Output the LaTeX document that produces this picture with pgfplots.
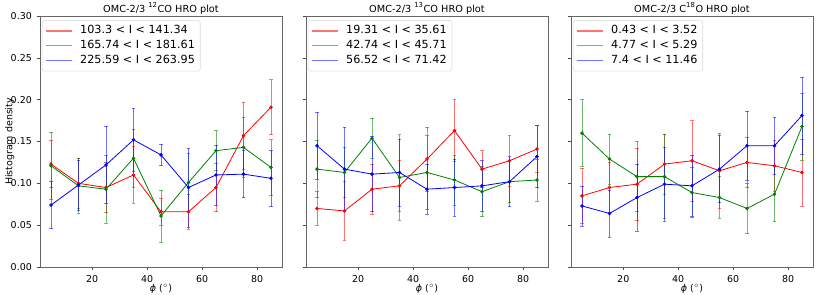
\documentclass[border=0pt]{standalone}
\usepackage{pgfplots}
\pgfplotsset{compat=1.18}
\usepackage{fontspec}
\setmainfont{DejaVu Sans}
\newcommand{\fs}{\fontsize{7.1}{8.5}\selectfont}
\newcommand{\fl}{\fontsize{7.3}{8.8}\selectfont}
\newcommand{\fg}{\fontsize{8.4}{9.5}\selectfont}
\definecolor{mred}{rgb}{1,0,0}
\definecolor{mgreen}{rgb}{0,0.5,0}
\definecolor{mblue}{rgb}{0,0,1}
\pgfplotsset{
  every axis title shift=0pt,
  every axis title/.style={at={(axis description cs:0.5,1.03)}, anchor=center, font=\fl},
  hro/.style={
    scale only axis, width=181.5pt, height=188.25pt,
    xmin=1, xmax=89, ymin=0, ymax=0.3,
    xtick={20,40,60,80}, ytick={0,0.05,0.10,0.15,0.20,0.25,0.30},
    tick align=outside, xtick pos=bottom, ytick pos=left,
    major tick length=2.6pt,
    axis line style={gray!80!black, line width=0.6pt},
    every tick/.style={gray!60!black, line width=0.5pt},
    ticklabel style={font=\fs},
    /pgf/number format/assume math mode=true,
    yticklabel style={/pgf/number format/.cd, fixed, fixed zerofill, precision=2},
    label style={font=\fs},
    xlabel={\textit{ϕ} ($^\circ$)},
    xlabel style={at={(axis description cs:0.5,-0.086)}, anchor=center},
    ylabel style={at={(axis description cs:-0.125,0.5)}, anchor=center},
    legend style={at={(0.008,0.984)}, anchor=north west, draw=gray!30, rounded corners=2pt,
      row sep=-0.5pt, inner sep=2pt, nodes={font=\fg}, /tikz/every odd column/.append style={column sep=3.5pt}},
    legend cell align=left,
    legend image code/.code={\draw[#1] (0cm,0cm) -- (0.7cm,0cm);},
  },
  ser/.style={#1, line width=0.6pt, mark=*, mark size=1pt, forget plot,
    error bars/.cd, y dir=both, y explicit,
    error bar style={#1, opacity=0.55, line width=0.6pt},
    error mark options={rotate=90, #1, opacity=0.55, mark size=1.3pt, line width=0.5pt}},
  leg/.style={#1, opacity=0.55, line width=1.1pt},
}
\begin{document}
\begin{tikzpicture}
\useasboundingbox (0,0) rectangle (616.5pt,220.5pt);
% Panel 1
\begin{axis}[hro, at={(30pt,20.25pt)}, anchor=south west,
  title={OMC-2/3 \textsuperscript{12}CO HRO plot}, ylabel={Histogram density}]
\addplot[ser=mred] coordinates {
(5,0.123) +- (0,0.028) (15,0.100) +- (0,0.030) (25,0.095) +- (0,0.030)
(35,0.110) +- (0,0.034) (45,0.066) +- (0,0.016) (55,0.066) +- (0,0.021)
(65,0.095) +- (0,0.029) (75,0.157) +- (0,0.040) (85,0.191) +- (0,0.033)};
\addplot[ser=mgreen] coordinates {
(5,0.121) +- (0,0.040) (15,0.097) +- (0,0.033) (25,0.093) +- (0,0.041)
(35,0.130) +- (0,0.035) (45,0.061) +- (0,0.031) (55,0.101) +- (0,0.035)
(65,0.139) +- (0,0.024) (75,0.143) +- (0,0.036) (85,0.119) +- (0,0.033)};
\addplot[ser=mblue] coordinates {
(5,0.074) +- (0,0.028) (15,0.098) +- (0,0.030) (25,0.122) +- (0,0.046)
(35,0.152) +- (0,0.038) (45,0.134) +- (0,0.013) (55,0.095) +- (0,0.047)
(65,0.110) +- (0,0.036) (75,0.111) +- (0,0.028) (85,0.106) +- (0,0.034)};
\addlegendimage{leg=mred}\addlegendentry{103.3 < I < 141.34}
\addlegendimage{leg=mgreen}\addlegendentry{165.74 < I < 181.61}
\addlegendimage{leg=mblue}\addlegendentry{225.59 < I < 263.95}
\end{axis}
% Panel 2
\begin{axis}[hro, at={(229.5pt,20.25pt)}, anchor=south west, yticklabels={},
  title={OMC-2/3 \textsuperscript{13}CO HRO plot}]
\addplot[ser=mred] coordinates {
(5,0.070) +- (0,0.020) (15,0.067) +- (0,0.035) (25,0.093) +- (0,0.030)
(35,0.097) +- (0,0.030) (45,0.129) +- (0,0.038) (55,0.163) +- (0,0.037)
(65,0.117) +- (0,0.022) (75,0.127) +- (0,0.030) (85,0.141) +- (0,0.028)};
\addplot[ser=mgreen] coordinates {
(5,0.117) +- (0,0.034) (15,0.113) +- (0,0.030) (25,0.154) +- (0,0.024)
(35,0.107) +- (0,0.051) (45,0.113) +- (0,0.044) (55,0.104) +- (0,0.030)
(65,0.090) +- (0,0.030) (75,0.102) +- (0,0.025) (85,0.104) +- (0,0.025)};
\addplot[ser=mblue] coordinates {
(5,0.145) +- (0,0.040) (15,0.117) +- (0,0.050) (25,0.111) +- (0,0.045)
(35,0.113) +- (0,0.040) (45,0.093) +- (0,0.030) (55,0.095) +- (0,0.034)
(65,0.097) +- (0,0.030) (75,0.102) +- (0,0.030) (85,0.132) +- (0,0.037)};
\addlegendimage{leg=mred}\addlegendentry{19.31 < I < 35.61}
\addlegendimage{leg=mgreen}\addlegendentry{42.74 < I < 45.71}
\addlegendimage{leg=mblue}\addlegendentry{56.52 < I < 71.42}
\end{axis}
% Panel 3
\begin{axis}[hro, at={(428.25pt,20.25pt)}, anchor=south west, yticklabels={},
  title={OMC-2/3 C\textsuperscript{18}O HRO plot}]
\addplot[ser=mred] coordinates {
(5,0.085) +- (0,0.033) (15,0.095) +- (0,0.030) (25,0.099) +- (0,0.043)
(35,0.123) +- (0,0.036) (45,0.127) +- (0,0.048) (55,0.115) +- (0,0.045)
(65,0.125) +- (0,0.030) (75,0.121) +- (0,0.030) (85,0.113) +- (0,0.040)};
\addplot[ser=mgreen] coordinates {
(5,0.160) +- (0,0.040) (15,0.129) +- (0,0.030) (25,0.108) +- (0,0.042)
(35,0.108) +- (0,0.050) (45,0.089) +- (0,0.030) (55,0.083) +- (0,0.025)
(65,0.070) +- (0,0.030) (75,0.087) +- (0,0.033) (85,0.168) +- (0,0.040)};
\addplot[ser=mblue] coordinates {
(5,0.073) +- (0,0.024) (15,0.064) +- (0,0.028) (25,0.083) +- (0,0.040)
(35,0.099) +- (0,0.044) (45,0.097) +- (0,0.036) (55,0.117) +- (0,0.040)
(65,0.145) +- (0,0.041) (75,0.145) +- (0,0.034) (85,0.181) +- (0,0.046)};
\addlegendimage{leg=mred}\addlegendentry{0.43 < I < 3.52}
\addlegendimage{leg=mgreen}\addlegendentry{4.77 < I < 5.29}
\addlegendimage{leg=mblue}\addlegendentry{7.4 < I < 11.46}
\end{axis}
\end{tikzpicture}
\end{document}
